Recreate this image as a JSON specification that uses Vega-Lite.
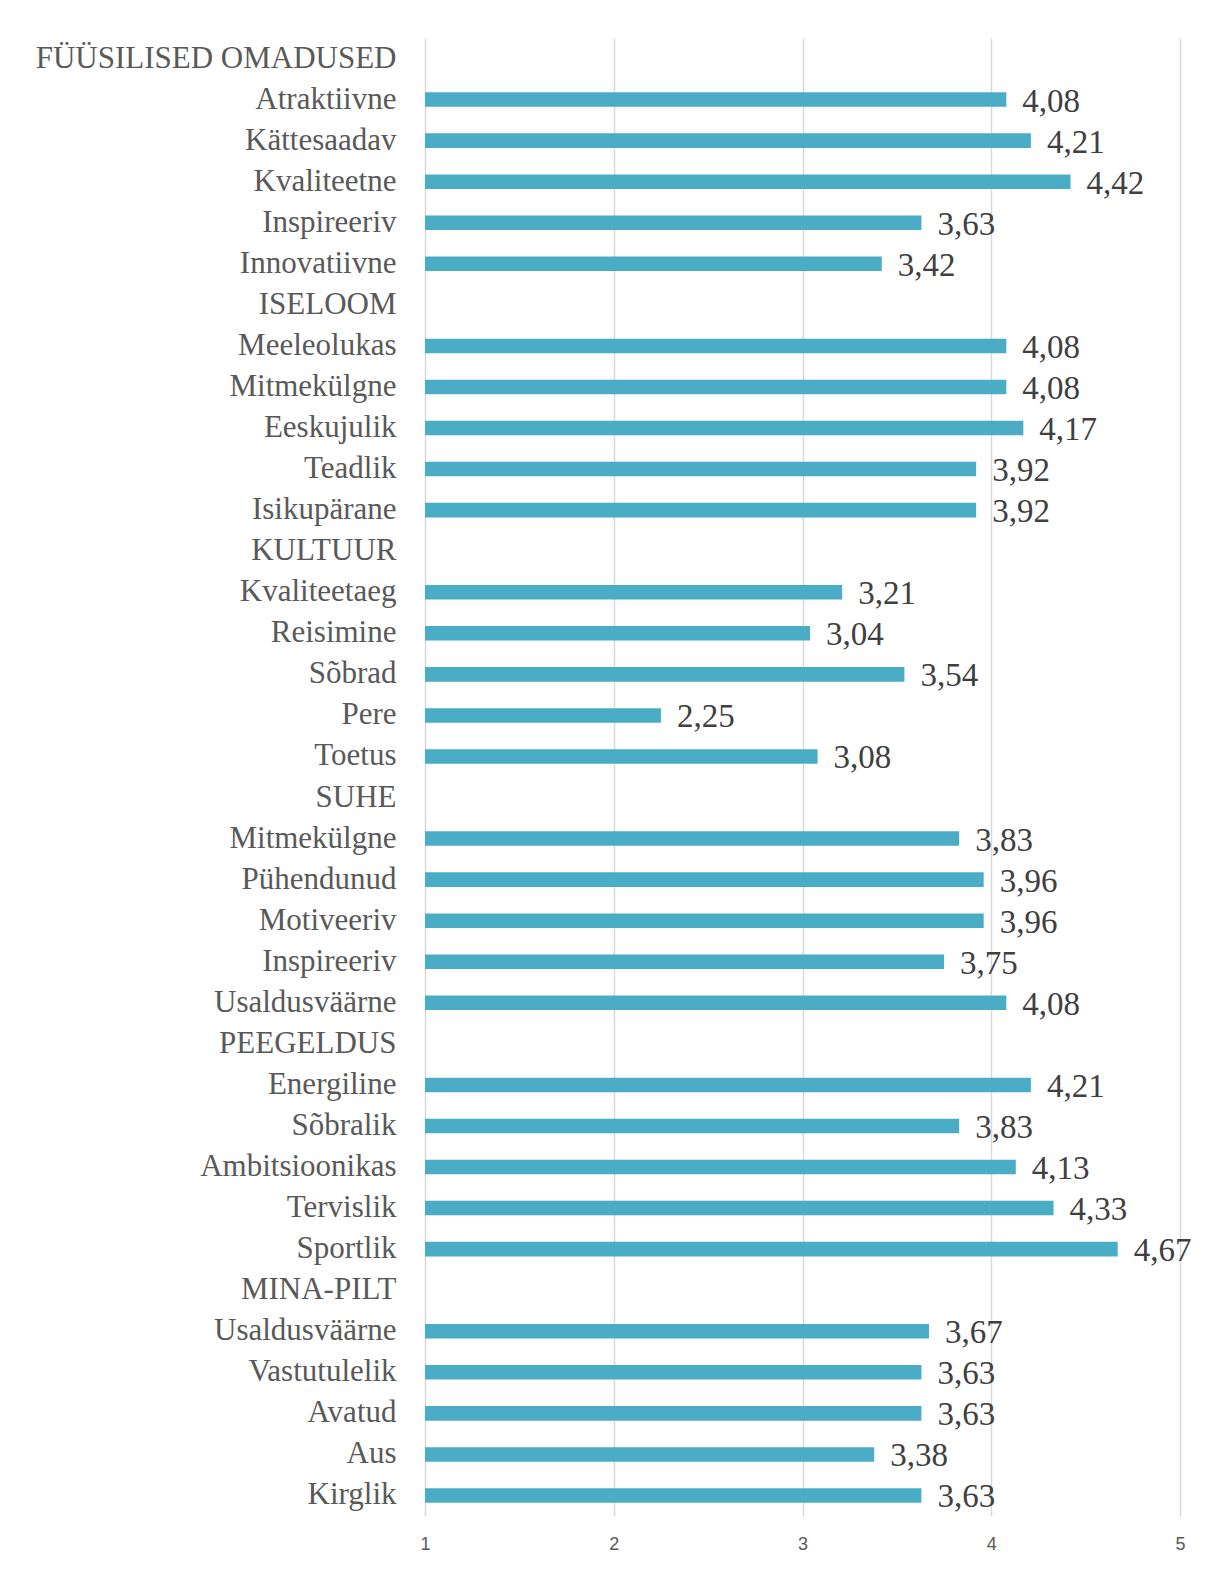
{
  "$schema": "https://vega.github.io/schema/vega-lite/v6.json",
  "autosize": "none",
  "width": 755,
  "height": 1478,
  "padding": {"left": 425, "top": 38, "right": 37, "bottom": 56},
  "background": "white",
  "config": {
    "view": {"stroke": null},
    "locale": {"number": {"decimal": ",", "thousands": " ", "grouping": [3], "currency": ["", " €"]}}
  },
  "data": {
    "values": [
      {"id": "01|FÜÜSILISED OMADUSED", "value": null},
      {"id": "02|Atraktiivne", "value": 4.08},
      {"id": "03|Kättesaadav", "value": 4.21},
      {"id": "04|Kvaliteetne", "value": 4.42},
      {"id": "05|Inspireeriv", "value": 3.63},
      {"id": "06|Innovatiivne", "value": 3.42},
      {"id": "07|ISELOOM", "value": null},
      {"id": "08|Meeleolukas", "value": 4.08},
      {"id": "09|Mitmekülgne", "value": 4.08},
      {"id": "10|Eeskujulik", "value": 4.17},
      {"id": "11|Teadlik", "value": 3.92},
      {"id": "12|Isikupärane", "value": 3.92},
      {"id": "13|KULTUUR", "value": null},
      {"id": "14|Kvaliteetaeg", "value": 3.21},
      {"id": "15|Reisimine", "value": 3.04},
      {"id": "16|Sõbrad", "value": 3.54},
      {"id": "17|Pere", "value": 2.25},
      {"id": "18|Toetus", "value": 3.08},
      {"id": "19|SUHE", "value": null},
      {"id": "20|Mitmekülgne", "value": 3.83},
      {"id": "21|Pühendunud", "value": 3.96},
      {"id": "22|Motiveeriv", "value": 3.96},
      {"id": "23|Inspireeriv", "value": 3.75},
      {"id": "24|Usaldusväärne", "value": 4.08},
      {"id": "25|PEEGELDUS", "value": null},
      {"id": "26|Energiline", "value": 4.21},
      {"id": "27|Sõbralik", "value": 3.83},
      {"id": "28|Ambitsioonikas", "value": 4.13},
      {"id": "29|Tervislik", "value": 4.33},
      {"id": "30|Sportlik", "value": 4.67},
      {"id": "31|MINA-PILT", "value": null},
      {"id": "32|Usaldusväärne", "value": 3.67},
      {"id": "33|Vastutulelik", "value": 3.63},
      {"id": "34|Avatud", "value": 3.63},
      {"id": "35|Aus", "value": 3.38},
      {"id": "36|Kirglik", "value": 3.63}
    ]
  },
  "encoding": {
    "y": {
      "field": "id",
      "type": "nominal",
      "sort": "ascending",
      "scale": {
        "domain": ["01|FÜÜSILISED OMADUSED", "02|Atraktiivne", "03|Kättesaadav", "04|Kvaliteetne", "05|Inspireeriv", "06|Innovatiivne", "07|ISELOOM", "08|Meeleolukas", "09|Mitmekülgne", "10|Eeskujulik", "11|Teadlik", "12|Isikupärane", "13|KULTUUR", "14|Kvaliteetaeg", "15|Reisimine", "16|Sõbrad", "17|Pere", "18|Toetus", "19|SUHE", "20|Mitmekülgne", "21|Pühendunud", "22|Motiveeriv", "23|Inspireeriv", "24|Usaldusväärne", "25|PEEGELDUS", "26|Energiline", "27|Sõbralik", "28|Ambitsioonikas", "29|Tervislik", "30|Sportlik", "31|MINA-PILT", "32|Usaldusväärne", "33|Vastutulelik", "34|Avatud", "35|Aus", "36|Kirglik"],
        "paddingInner": 0.645,
        "paddingOuter": 0.3225
      },
      "axis": {
        "title": null,
        "domain": false,
        "ticks": false,
        "labelPadding": 29,
        "labelExpr": "split(datum.value, '|')[1]",
        "labelFont": "Liberation Serif",
        "labelFontSize": 31,
        "labelColor": "#595959",
        "labelLimit": 500
      }
    }
  },
  "layer": [
    {
      "mark": {"type": "bar", "color": "#4bacc6"},
      "encoding": {
        "x": {
          "field": "value",
          "type": "quantitative",
          "scale": {"domain": [1, 5], "nice": false, "zero": false},
          "axis": {
            "title": null,
            "values": [1, 2, 3, 4, 5],
            "format": "d",
            "domain": false,
            "ticks": false,
            "grid": true,
            "gridColor": "#d9d9d9",
            "gridWidth": 1.5,
            "labelFlush": false,
            "labelPadding": 19,
            "labelFont": "Liberation Sans",
            "labelFontSize": 18,
            "labelColor": "#595959"
          }
        },
        "x2": {"datum": 1}
      }
    },
    {
      "mark": {"type": "text", "align": "left", "baseline": "middle", "dx": 16, "dy": 2, "font": "Liberation Serif", "fontSize": 33, "color": "#404040"},
      "encoding": {
        "x": {"field": "value", "type": "quantitative"},
        "text": {"field": "value", "type": "quantitative", "format": ".2f"}
      }
    }
  ]
}
